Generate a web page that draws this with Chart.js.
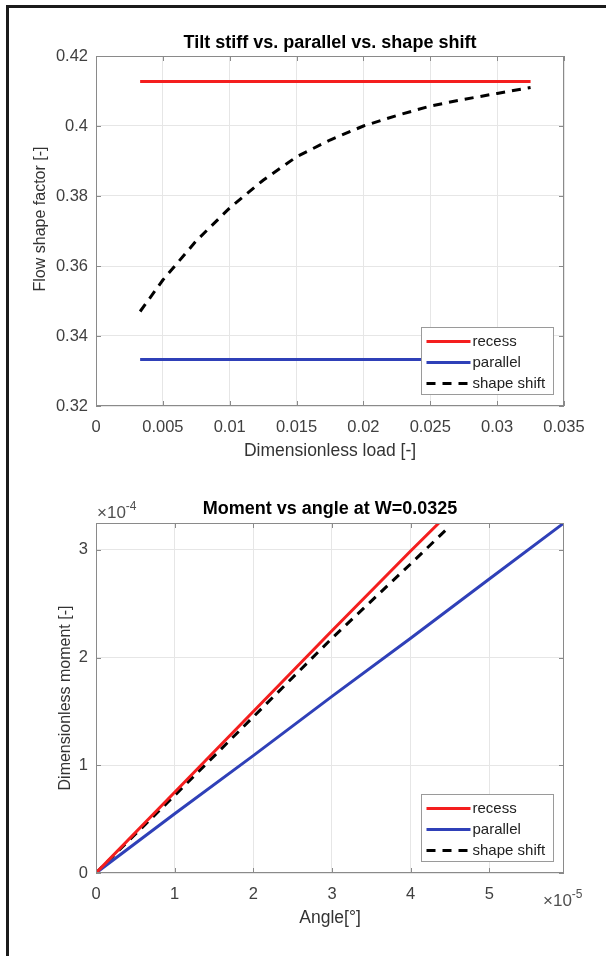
<!DOCTYPE html>
<html>
<head>
<meta charset="utf-8">
<script src="https://cdn.jsdelivr.net/npm/chart.js@4/dist/chart.umd.min.js"></script>
<style>
  html, body { margin: 0; padding: 0; background: #fff; }
  body { width: 606px; height: 956px; position: relative; overflow: hidden; }
  .frame { position: absolute; left: 6px; top: 5px; right: -10px; bottom: -10px;
           border-top: 3px solid #1b1b1b; border-left: 3px solid #1b1b1b; }
  canvas { position: absolute; left: 0; }
  #shape-chart { top: 0; }
  #moment-chart { top: 478px; }
</style>
</head>
<body>
<div class="frame"></div>
<canvas id="shape-chart" width="606" height="478"></canvas>
<canvas id="moment-chart" width="606" height="478"></canvas>
<script>
// --- top panel: flow shape factor vs dimensionless load ---
const loadValues = [0.0033, 0.005, 0.0075, 0.01, 0.0125, 0.015, 0.0175, 0.02, 0.0225, 0.025, 0.0275, 0.03, 0.0325];
const recessShape = [0.4127, 0.4127, 0.4127, 0.4127, 0.4127, 0.4127, 0.4127, 0.4127, 0.4127, 0.4127, 0.4127, 0.4127, 0.4127];
const parallelShape = [0.3333, 0.3333, 0.3333, 0.3333, 0.3333, 0.3333, 0.3333, 0.3333, 0.3333, 0.3333, 0.3333, 0.3333, 0.3333];
const shiftShape = [0.347, 0.356, 0.3672, 0.3766, 0.3845, 0.3912, 0.396, 0.400, 0.403, 0.4057, 0.4076, 0.4093, 0.411];
const loadTicks = [0, 0.005, 0.01, 0.015, 0.02, 0.025, 0.03, 0.035];
const loadTickLabels = ['0', '0.005', '0.01', '0.015', '0.02', '0.025', '0.03', '0.035'];
const shapeTicks = [0.32, 0.34, 0.36, 0.38, 0.4, 0.42];
const shapeTickLabels = ['0.32', '0.34', '0.36', '0.38', '0.4', '0.42'];

// --- bottom panel: moment vs angle at W=0.0325 ---
const angleRecess = [0, 1e-5, 2e-5, 3e-5, 4e-5, 4.36e-5];
const momentRecess = [0, 0.75e-4, 1.5e-4, 2.25e-4, 2.99e-4, 3.25e-4];
const angleParallel = [0, 1e-5, 2e-5, 3e-5, 4e-5, 5e-5, 5.95e-5];
const momentParallel = [0, 0.55e-4, 1.09e-4, 1.64e-4, 2.18e-4, 2.73e-4, 3.25e-4];
const angleShift = [0, 1e-5, 2e-5, 3e-5, 4e-5, 4.47e-5];
const momentShift = [0, 0.72e-4, 1.45e-4, 2.18e-4, 2.87e-4, 3.20e-4];
const angleTicks = [0, 1e-5, 2e-5, 3e-5, 4e-5, 5e-5];
const angleTickLabels = ['0', '1', '2', '3', '4', '5'];
const momentTicks = [0, 1e-4, 2e-4, 3e-4];
const momentTickLabels = ['0', '1', '2', '3'];

const RED = '#f41e1e';
const BLUE = '#2f40b8';
const BLACK = '#000000';
const FONT = "'Liberation Sans', Arial, sans-serif";

Chart.defaults.font.family = FONT;
Chart.defaults.color = '#404040';

function pairs(xs, ys) {
    return xs.map((x, i) => ({ x: x, y: ys[i] }));
}

// MATLAB-like axes box, inward ticks, legend and exponent labels
const matlabAxes = {
    id: 'matlabAxes',
    afterDatasetsDraw(chart, args, opts) {
        const ctx = chart.ctx;
        const a = chart.chartArea;
        const xs = chart.scales.x;
        const ys = chart.scales.y;
        ctx.save();
        ctx.strokeStyle = '#8a8a8a';
        ctx.lineWidth = 1;
        ctx.beginPath();
        xs.ticks.forEach(t => {
            const px = Math.round(xs.getPixelForValue(t.value)) + 0.5;
            ctx.moveTo(px, a.bottom); ctx.lineTo(px, a.bottom - 5);
            ctx.moveTo(px, a.top); ctx.lineTo(px, a.top + 5);
        });
        ys.ticks.forEach(t => {
            const py = Math.round(ys.getPixelForValue(t.value)) + 0.5;
            ctx.moveTo(a.left, py); ctx.lineTo(a.left + 5, py);
            ctx.moveTo(a.right, py); ctx.lineTo(a.right - 5, py);
        });
        ctx.stroke();
        ctx.strokeRect(Math.round(a.left) + 0.5, Math.round(a.top) + 0.5,
                       Math.round(a.width) - 1, Math.round(a.height) - 1);

        // legend, bottom right inside the axes
        const w = 132, h = 67;
        const bx = Math.round(a.right - 11 - w) + 0.5;
        const by = Math.round(a.bottom - 12 - h) + 0.5;
        ctx.fillStyle = '#ffffff';
        ctx.fillRect(bx, by, w, h);
        ctx.strokeStyle = '#9a9a9a';
        ctx.strokeRect(bx, by, w, h);
        chart.data.datasets.forEach((ds, i) => {
            const y = by + 14 + i * 21;
            ctx.beginPath();
            ctx.setLineDash(ds.borderDash || []);
            ctx.strokeStyle = ds.borderColor;
            ctx.lineWidth = ds.borderWidth;
            ctx.moveTo(bx + 5, y);
            ctx.lineTo(bx + 49, y);
            ctx.stroke();
            ctx.setLineDash([]);
            ctx.fillStyle = '#222222';
            ctx.font = '15px ' + FONT;
            ctx.textBaseline = 'middle';
            ctx.textAlign = 'left';
            ctx.fillText(ds.label, bx + 51, y);
        });

        // exponent labels
        ctx.fillStyle = '#505050';
        ctx.textBaseline = 'alphabetic';
        ctx.textAlign = 'left';
        if (opts.yExp) {
            ctx.font = '17px ' + FONT;
            const x0 = a.left + 1, y0 = a.top - 5;
            ctx.fillText('\u00d710', x0, y0);
            const wd = ctx.measureText('\u00d710').width;
            ctx.font = '12px ' + FONT;
            ctx.fillText(opts.yExp, x0 + wd, y0 - 8);
        }
        if (opts.xExp) {
            ctx.font = '17px ' + FONT;
            const x0 = a.right - 21, y0 = a.bottom + 33;
            ctx.fillText('\u00d710', x0, y0);
            const wd = ctx.measureText('\u00d710').width;
            ctx.font = '12px ' + FONT;
            ctx.fillText(opts.xExp, x0 + wd, y0 - 8);
        }
        ctx.restore();
    }
};

function lineSet(label, data, color, dash) {
    return {
        label: label,
        data: data,
        showLine: true,
        borderColor: color,
        backgroundColor: color,
        borderWidth: 3,
        borderDash: dash || [],
        pointRadius: 0,
        fill: false
    };
}

function axisOptions(cfg) {
    return {
        x: {
            type: 'linear',
            min: cfg.xMin,
            max: cfg.xMax,
            afterFit: s => { s.height = cfg.xHeight; },
            afterBuildTicks: s => { s.ticks = cfg.xTicks.map(v => ({ value: v })); },
            grid: { color: '#e6e6e6', drawTicks: false },
            border: { display: false },
            ticks: {
                padding: 12,
                maxRotation: 0,
                font: { size: 16.5 },
                callback: (v, i) => cfg.xLabels[i]
            },
            title: {
                display: true,
                text: cfg.xTitle,
                color: '#333333',
                font: { size: 17.5 },
                padding: { top: 0, bottom: cfg.xTitlePad }
            }
        },
        y: {
            type: 'linear',
            min: cfg.yMin,
            max: cfg.yMax,
            afterFit: s => { s.width = 96; },
            afterBuildTicks: s => { s.ticks = cfg.yTicks.map(v => ({ value: v })); },
            grid: { color: '#e6e6e6', drawTicks: false },
            border: { display: false },
            ticks: {
                padding: 8,
                font: { size: 16.5 },
                callback: (v, i) => cfg.yLabels[i]
            },
            title: {
                display: true,
                text: cfg.yTitle,
                color: '#333333',
                font: { size: 16 },
                padding: { top: cfg.yTitlePad, bottom: 0 }
            }
        }
    };
}

// title sits over the plot area only, like a MATLAB axes title
function titleOptions(text, padTop, padBottom) {
    return {
        display: true,
        fullSize: false,
        text: text,
        color: '#000000',
        font: { size: 18, weight: 'bold' },
        padding: { top: padTop, bottom: padBottom }
    };
}

document.addEventListener('DOMContentLoaded', function() {
    new Chart(document.getElementById('shape-chart'), {
        type: 'scatter',
        data: {
            datasets: [
                lineSet('recess', pairs(loadValues, recessShape), RED),
                lineSet('parallel', pairs(loadValues, parallelShape), BLUE),
                lineSet('shape shift', pairs(loadValues, shiftShape), BLACK, [9, 7])
            ]
        },
        options: {
            responsive: false,
            animation: false,
            events: [],
            layout: { padding: { left: 0, right: 42, top: 0, bottom: 0 } },
            plugins: {
                legend: { display: false },
                tooltip: { enabled: false },
                title: titleOptions('Tilt stiff vs. parallel vs. shape shift', 32.2, 2.2),
                matlabAxes: {}
            },
            scales: axisOptions({
                xMin: 0, xMax: 0.035, xTicks: loadTicks, xLabels: loadTickLabels,
                yMin: 0.32, yMax: 0.42, yTicks: shapeTicks, yLabels: shapeTickLabels,
                // leading spaces nudge the label up, as in the original figure
                xTitle: 'Dimensionless load [-]', yTitle: '\u2002\u2002\u2002Flow shape factor [-]',
                xHeight: 72, xTitlePad: 16, yTitlePad: 31.4
            })
        },
        plugins: [matlabAxes]
    });

    new Chart(document.getElementById('moment-chart'), {
        type: 'scatter',
        data: {
            datasets: [
                lineSet('recess', pairs(angleRecess, momentRecess), RED),
                lineSet('parallel', pairs(angleParallel, momentParallel), BLUE),
                lineSet('shape shift', pairs(angleShift, momentShift), BLACK, [9, 7])
            ]
        },
        options: {
            responsive: false,
            animation: false,
            events: [],
            layout: { padding: { left: 0, right: 42, top: 0, bottom: 0 } },
            plugins: {
                legend: { display: false },
                tooltip: { enabled: false },
                title: titleOptions('Moment vs angle at W=0.0325', 20.2, 3.2),
                matlabAxes: { yExp: '-4', xExp: '-5' }
            },
            scales: axisOptions({
                xMin: 0, xMax: 5.95e-5, xTicks: angleTicks, xLabels: angleTickLabels,
                yMin: 0, yMax: 3.25e-4, yTicks: momentTicks, yLabels: momentTickLabels,
                xTitle: 'Angle[\u00b0]', yTitle: 'Dimensionless moment [-]',
                xHeight: 83, xTitlePad: 27, yTitlePad: 56.4
            })
        },
        plugins: [matlabAxes]
    });
});
</script>
</body>
</html>
